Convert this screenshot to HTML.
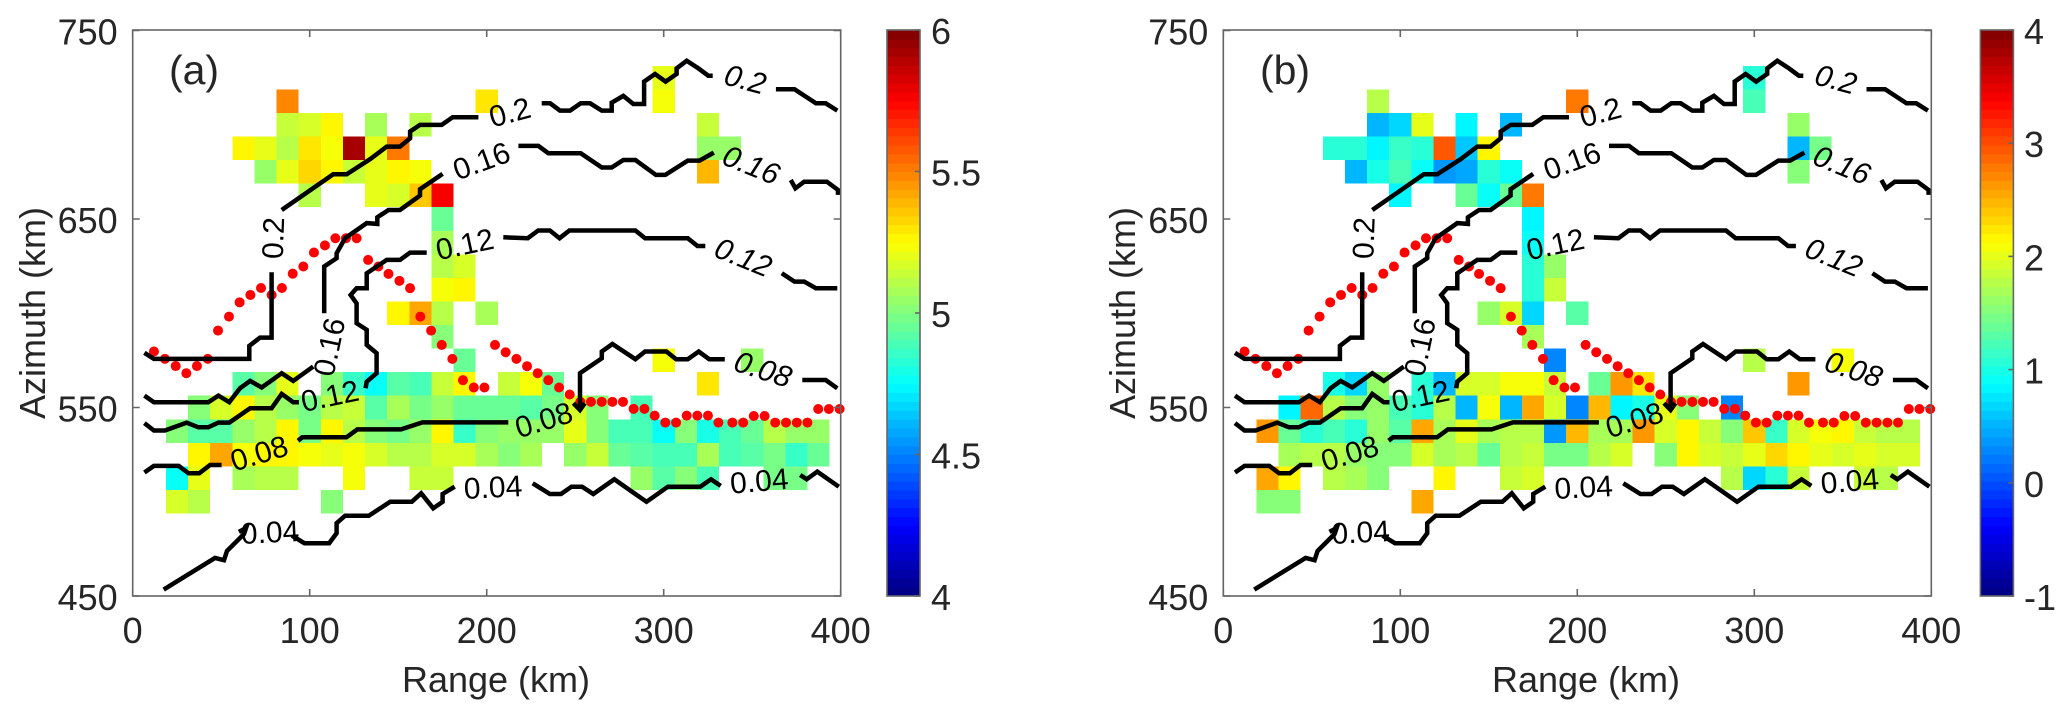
<!DOCTYPE html>
<html lang="en">
<head>
<meta charset="utf-8">
<title>Range-azimuth heatmaps (a) and (b)</title>
<style>
  html, body { margin: 0; padding: 0; background: #fff; }
  svg { display: block; }
  text { font-family: "Liberation Sans", Arial, sans-serif; fill: #262626; }
</style>
</head>
<body>
<svg id="chart" xmlns="http://www.w3.org/2000/svg" width="2067" height="716" viewBox="0 0 2067 716">
  <rect x="0" y="0" width="2067" height="716" fill="#fff"/>
  <g id="panel-a">
    <text x="194" y="84" font-size="41" text-anchor="middle">(a)</text>
    <text x="496" y="692" font-size="36" text-anchor="middle">Range (km)</text>
    <text transform="translate(45 313) rotate(-90)" font-size="36" text-anchor="middle">Azimuth (km)</text>
  </g>
  <g id="panel-b">
    <text x="1285" y="84" font-size="41" text-anchor="middle">(b)</text>
    <text x="1586" y="692" font-size="36" text-anchor="middle">Range (km)</text>
    <text transform="translate(1135 313) rotate(-90)" font-size="36" text-anchor="middle">Azimuth (km)</text>
  </g>
</svg>
<script>
const _ = null;
const rangeTicks = [0, 100, 200, 300, 400];
const azimuthTicks = [450, 550, 650, 750];
const colorTicksA = [4, 4.5, 5, 5.5, 6];
const colorTicksB = [-1, 0, 1, 2, 3, 4];
const colorLimitsA = [4, 6];
const colorLimitsB = [-1, 4];

const rangeBins = [25,37.5,50,62.5,75, 87.5,100,112.5,125,137.5, 150,162.5,175,187.5,200, 212.5,225,237.5,250,262.5, 275,287.5,300,312.5,325, 337.5,350,362.5,375,387.5];
const azimuthBins = [725,712.5,700,687.5,675,662.5,650,637.5,625,612.5,600,587.5,575,562.5,550,537.5,525,512.5,500];

const valuesA = [
[_,_,_,_,_, _,_,_,_,_, _,_,_,_,_, _,_,_,_,_, _,_,5.2,_,_, _,_,_,_,_],
[_,_,_,_,_, 5.47,_,_,_,_, _,_,_,_,5.29, _,_,_,_,_, _,_,5.22,_,_, _,_,_,_,_],
[_,_,_,_,_, 5.13,5.16,5.26,_,5.08, _,5.1,_,_,_, _,_,_,_,_, _,_,_,_,5.15, _,_,_,_,_],
[_,_,_,5.27,5.2, 5.12,5.3,5.22,5.92,5.2, 5.5,_,_,_,_, _,_,_,_,_, _,_,_,_,5.05, 5.05,_,_,_,_],
[_,_,_,_,5.06, 5.2,5.32,5.26,5.15,5.2, 5.27,5.22,_,_,_, _,_,_,_,_, _,_,_,_,5.38, _,_,_,_,_],
[_,_,_,_,_, _,5.12,_,_,5.2, 5.17,5.35,5.75,_,_, _,_,_,_,_, _,_,_,_,_, _,_,_,_,_],
[_,_,_,_,_, _,_,_,_,_, _,_,4.95,_,_, _,_,_,_,_, _,_,_,_,_, _,_,_,_,_],
[_,_,_,_,_, _,_,_,_,_, _,_,5.08,_,_, _,_,_,_,_, _,_,_,_,_, _,_,_,_,_],
[_,_,_,_,_, _,_,_,_,_, _,_,5.12,5.17,_, _,_,_,_,_, _,_,_,_,_, _,_,_,_,_],
[_,_,_,_,_, _,_,_,_,_, _,_,5.22,5.27,_, _,_,_,_,_, _,_,_,_,_, _,_,_,_,_],
[_,_,_,_,_, _,_,_,_,_, 5.27,5.42,5.1,_,5.08, _,_,_,_,_, _,_,_,_,_, _,_,_,_,_],
[_,_,_,_,_, _,_,_,_,_, _,_,5.02,_,_, _,_,_,_,_, _,_,_,_,_, _,_,_,_,_],
[_,_,_,_,_, _,_,_,_,_, _,_,_,4.95,_, _,_,_,_,_, _,_,5.22,_,_, _,5.05,_,_,_],
[_,_,_,4.92,5.0, 5.2,_,5.0,4.85,4.75, 4.92,4.88,5.15,5.27,_, 5.15,5.22,4.95,_,_, _,_,_,_,5.3, _,_,_,_,_],
[_,5.0,5.18,5.27,5.1, 5.05,4.98,5.1,5.15,4.93, 5.08,4.97,5.05,4.95,4.96, 4.96,4.92,4.98,5.18,5.02, _,4.9,_,_,_, _,_,_,_,_],
[5.0,4.92,4.93,5.05,5.1, 5.27,4.97,5.27,5.12,5.0, 4.97,5.05,5.27,4.87,5.02, 5.06,5.05,5.05,5.2,5.02, 4.9,4.9,4.75,5.0,4.8, 4.9,4.95,5.1,5.05,5.05],
[_,5.27,5.42,5.22,5.27, 5.27,5.22,5.2,5.22,5.18, 5.1,5.1,5.18,5.18,5.08, 5.03,5.08,_,5.06,5.13, 4.95,4.92,4.88,4.88,5.08, 4.88,4.93,4.98,4.85,4.95],
[4.75,5.2,_,5.08,5.12, 5.12,_,_,5.22,_, _,5.15,5.15,_,_, _,_,_,_,_, _,5.05,4.92,5.0,4.88, _,_,4.98,4.98,_],
[5.17,5.1,_,_,_, _,_,5.03,_,_, _,_,_,_,_, _,_,_,_,_, _,_,_,_,_, _,_,_,_,_]
];

const valuesB = [
[_,_,_,_,_, _,_,_,_,_, _,_,_,_,_, _,_,_,_,_, _,_,1.05,_,_, _,_,_,_,_],
[_,_,_,_,_, 1.75,_,_,_,_, _,_,_,_,2.75, _,_,_,_,_, _,_,1.25,_,_, _,_,_,_,_],
[_,_,_,_,_, 0.5,0.65,2.0,_,0.85, _,0.5,_,_,_, _,_,_,_,_, _,_,_,_,1.6, _,_,_,_,_],
[_,_,_,1.05,1.05, 0.8,1.15,1.1,2.95,0.6, 2.2,_,_,_,_, _,_,_,_,_, _,_,_,_,0.5, 1.45,_,_,_,_],
[_,_,_,_,0.5, 1.0,1.25,0.95,0.35,0.45, 1.05,0.9,_,_,_, _,_,_,_,_, _,_,_,_,1.5, _,_,_,_,_],
[_,_,_,_,_, _,0.85,_,_,1.35, 0.95,1.4,2.75,_,_, _,_,_,_,_, _,_,_,_,_, _,_,_,_,_],
[_,_,_,_,_, _,_,_,_,_, _,_,0.85,_,_, _,_,_,_,_, _,_,_,_,_, _,_,_,_,_],
[_,_,_,_,_, _,_,_,_,_, _,_,0.95,_,_, _,_,_,_,_, _,_,_,_,_, _,_,_,_,_],
[_,_,_,_,_, _,_,_,_,_, _,_,1.05,1.6,_, _,_,_,_,_, _,_,_,_,_, _,_,_,_,_],
[_,_,_,_,_, _,_,_,_,_, _,_,1.1,1.85,_, _,_,_,_,_, _,_,_,_,_, _,_,_,_,_],
[_,_,_,_,_, _,_,_,_,_, 1.65,1.9,0.65,_,1.3, _,_,_,_,_, _,_,_,_,_, _,_,_,_,_],
[_,_,_,_,_, _,_,_,_,_, _,_,1.7,_,_, _,_,_,_,_, _,_,_,_,_, _,_,_,_,_],
[_,_,_,_,_, _,_,_,_,_, _,_,_,0.3,_, _,_,_,_,_, _,_,1.8,_,_, _,2.1,_,_,_],
[_,_,_,1.0,0.7, 1.6,_,1.1,0.55,1.9, 1.95,2.1,2.1,1.85,_, 1.4,2.6,2.25,_,_, _,_,_,_,2.6, _,_,_,_,_],
[_,0.85,2.9,1.8,1.5, 1.65,1.25,1.1,1.75,0.5, 2.05,0.55,2.55,1.95,0.25, 2.5,0.8,1.0,2.0,1.5, _,0.3,_,_,_, _,_,_,_,_],
[2.65,1.4,1.05,1.25,1.1, 1.65,1.3,2.55,1.7,2.0, 1.7,1.8,1.75,0.4,2.45, 1.7,1.7,2.6,1.95,2.15, 1.85,1.55,2.4,1.15,1.95, 2.05,2.2,1.85,1.75,1.75],
[_,1.7,1.75,1.75,1.65, 1.5,1.55,1.9,1.7,1.75, 1.4,1.75,1.85,1.45,1.45, 1.8,1.95,_,1.55,2.15, 1.95,1.85,2.0,2.35,2.15, 2.0,1.95,2.0,1.9,1.95],
[2.55,2.2,_,1.75,1.7, 1.55,_,_,2.15,_, _,1.85,1.9,_,_, _,_,_,_,_, _,1.8,0.65,1.05,1.85, _,_,1.85,1.8,_],
[1.55,1.55,_,_,_, _,_,2.55,_,_, _,_,_,_,_, _,_,_,_,_, _,_,_,_,_, _,_,_,_,_]
];

const dotRange = [12,18.2,24.3,30.3,36.3,42.4,48.2,54.4,60.4,66.5,72.5,78.5,84.3,90.4,96.4,102.4,108.6,114.5,120.5,126.5,133,138.8,144.5,150.7,156.7,162.5,168.6,174.6,180.6,186.6,192.7,198.7,204.7,210.7,216.8,222.8,228.8,234.8,240.9,246.9,252.9,258.9,265,271,277,283,289.1,294.9,300.9,307,313,319,325,330.9,338.8,344.9,350.9,357,363,369.1,375.2,381.2,387.3,393.3,399.4];
const dotAzimuth = [579.7,575.8,572,568.2,572,575.8,590.8,598.2,605.8,609.7,613.4,609.7,613.4,621,624.8,632.2,636,639.8,639.8,639.8,628.3,624.8,620.9,617.2,613.3,598.2,590.8,583.2,575.8,564.5,560.6,560.6,583.2,579.3,575.8,571.9,568.2,564.5,560.6,556.9,553,553,553,553,553,549.3,549.3,545.7,542,542,545.7,545.7,545.7,542,542,542,545.5,545.5,542,542,542,542,549.2,549.2,549.2];

const contour20a = [[6.6,579],[12,575.8],[65.9,575.8],[65.9,582.7],[71.9,587.1],[78.5,587.1],[78.5,621.7]];
const contour20b = [[84.2,654.8],[113.3,673.7],[120.9,673.7],[134.1,681.7],[143.5,688.4],[151,688.4],[156.7,692.8],[156.7,696.4],[162.3,699.9],[174.6,699.9],[180.8,704],[195.3,704]];
const contour20c = [[231.1,711.4],[235.8,711.4],[241.4,707.5],[247.1,707.5],[253.1,711.4],[258.4,711.4],[265,707.5],[270.6,707.5],[270.6,711.7],[277.2,715.3],[282.8,711],[288.9,711],[288.9,722.9],[295.1,726.9],[301.1,722.9],[307.3,726.9],[307.3,729.9],[313,734],[319.6,729.9],[325.2,726],[327.7,726]];
const contour20d = [[363.4,718.8],[373.9,718.8],[386,711.4],[391.5,711.4],[398.1,707.5]];
const contour16a = [[6.6,556.3],[12,552.8],[42.7,552.8],[48.4,556.3],[54.6,552.8],[60.6,560.2],[66.3,564.1],[72.9,560.6],[84.2,568.2],[90.7,564.1],[102,571.7]];
const contour16b = [[108.2,600],[108.2,624.8],[115.2,629.2],[115.2,631.8],[120,639.8],[132.2,647.8],[138.2,647.4],[138.2,650.9],[144.5,654.8],[151,654.8],[162.3,662.4],[162.3,665.8],[175.1,673.9]];
const contour16c = [[217.9,688.8],[229.2,688.8],[234.8,684.9],[253.1,684.9],[265,677.3],[270.6,677.3],[277.2,681.3],[284,681.3],[295.6,673.4],[300.9,673.4],[313.6,681],[320.2,681],[328.3,685.2]];
const contour16d = [[371.8,670.7],[374.4,666.3],[379.4,669.8],[392.2,669.8],[398.5,665.4],[398.5,662.8]];
const contour12a = [[6.6,541.7],[12,537.8],[18.2,537.8],[30.5,542],[37.1,539.5],[42.7,539.5],[48.4,542],[54.6,542],[66.3,549.6],[78.5,549.6],[84.2,557.2],[90.7,552.8],[93.9,552.8]];
const contour12b = [[131.6,560.2],[132.2,563.7],[137.8,568.2],[137.8,578.8],[132.2,583.2],[132.2,591.2],[126.5,594.7],[126.5,605.3],[123.1,609.7],[126.5,613.3],[132.2,613.3],[132.2,621.2],[143.5,628.3],[151,628.3],[156.7,632.2],[166.1,632.2]];
const contour12c = [[209.4,640.3],[223.2,639.8],[229.1,643.9],[235.7,643.9],[241.2,639.8],[246.7,643.9],[284,643.9],[289.5,639.8],[313.6,639.8],[319.1,635.7],[323.5,635.7]];
const contour12d = [[366.7,621.2],[373.9,616.8],[379.4,616.8],[386,613.3],[398.1,613.3]];
const contour08a = [[6.6,515.5],[12,519],[26,519],[31.5,515.1],[37.6,515.1],[43.7,519.5],[50.2,519.5]];
const contour08b = [[93.4,532.4],[95.8,534.2],[120.8,534.2],[126.9,538.4],[151.6,538.4],[163.7,542.1],[212.2,542.1]];
const contour08c = [[249,552.3],[252.7,548.7],[255.4,552.3],[252.7,548.7],[252.7,568.2],[265,576.1],[265,579.7],[271,583.7],[284,575.6],[289.5,579.7],[301.5,579.7],[307,575.6],[313.6,575.6],[319.8,579.7],[325.7,575.6],[334.5,575.6]];
const contour08d = [[378.3,564.6],[391.5,564.6],[398.1,560.2]];
const contour04a = [[17.5,453.4],[46.5,470.2],[51.6,469],[53.3,473.9],[62.9,482.9],[64,486],[60,484]];
const contour04b = [[90,482],[97,478],[111,478],[115.2,483.3],[115.2,488.6],[120,492.6],[133.4,492.6],[145.5,500],[157.7,500],[163,504.5],[169.8,496.5],[175.1,500],[175.1,504.1],[181.9,508]];
const contour04c = [[226,509.8],[235.7,504.1],[242,504.1],[247.9,508],[253.9,508],[260.2,504.1],[272.1,511.9],[290.3,500],[302.4,508],[320.6,508],[326.7,511.9],[332.2,508.4]];
const contour04d = [[377.1,514.2],[380.8,511.9],[386.8,516],[398.9,508]];
const contourSegments = [contour20a,contour20b,contour20c,contour20d,contour16a,contour16b,contour16c,contour16d,contour12a,contour12b,contour12c,contour12d,contour08a,contour08b,contour08c,contour08d,contour04a,contour04b,contour04c,contour04d];

const contourLabelText = ['0.2','0.2','0.2','0.16','0.16','0.16','0.12','0.12','0.12','0.08','0.08','0.08','0.04','0.04','0.04'];
const contourLabelRange = [79.8,213.2,346,111.5,197.2,349.3,111.5,187.7,344.8,71.6,232.4,356,77.6,203.6,354];
const contourLabelAzimuth = [639.9,706.2,723.7,582,680.4,678.3,555.7,636.2,629.3,525.3,543,569.9,483.4,507.3,510.6];
const contourLabelAngle = [-88,-15,15,-78,-20,22,-12,-12,22,-17,-17,18,-3,-3,-5];

const SVG_NS = 'http://www.w3.org/2000/svg';
const PLOT_TOP = 30, PLOT_BOTTOM = 596, KM_PX = 1.77, AZ_PX = 1.885;

function make(tag, attrs, parent) {
  const el = document.createElementNS(SVG_NS, tag);
  for (const k in attrs) el.setAttribute(k, attrs[k]);
  parent.appendChild(el);
  return el;
}

function jetColor(f) {
  const idx = Math.max(0, Math.min(63, Math.floor(f * 64)));
  const c = (idx + 0.5) / 64;
  const ch = v => Math.round(255 * Math.max(0, Math.min(1, 1.5 - Math.abs(4 * c - v))));
  return 'rgb(' + ch(3) + ',' + ch(2) + ',' + ch(1) + ')';
}

function drawPanel(root, prefix, left, values, limits, colorTicks, barLeft, barLabelX) {
  const xScale = km => left + km * KM_PX;
  const yScale = az => PLOT_BOTTOM - (az - 450) * AZ_PX;
  const colorFrac = v => (v - limits[0]) / (limits[1] - limits[0]);
  const right = xScale(400);

  const heat = make('g', {'shape-rendering': 'crispEdges'}, root);
  
  
  values.forEach((row, r) => {
    row.forEach((v, c) => {
      if (v === null) return;
      const x0 = xScale(rangeBins[c] - 6.25), x1 = xScale(rangeBins[c] + 6.25);
      const y0 = yScale(azimuthBins[r] + 6.25), y1 = yScale(azimuthBins[r] - 6.25);
      const cell = make('rect', {x: x0, y: y0, width: x1 - x0, height: y1 - y0, fill: jetColor(colorFrac(v))}, heat);
      
      
    });
  });

  const dots = make('g', {fill: '#ff0000'}, root);
  
  
  dotRange.forEach((km, i) => {
    const dot = make('circle', {cx: xScale(km), cy: yScale(dotAzimuth[i]), r: 5}, dots);
    
    
  });

  const lines = make('g', {fill: 'none', stroke: '#000', 'stroke-width': 4.5, 'stroke-linejoin': 'miter', 'stroke-miterlimit': 3}, root);
  
  
  contourSegments.forEach(seg => {
    const pts = seg.map(p => xScale(p[0]).toFixed(1) + ',' + yScale(p[1]).toFixed(1)).join(' ');
    const line = make('polyline', {points: pts}, lines);
    
    
  });

  contourLabelText.forEach((t, i) => {
    const px = xScale(contourLabelRange[i]), py = yScale(contourLabelAzimuth[i]);
    const attrs = {transform: 'translate(' + px + ' ' + py + ') rotate(' + contourLabelAngle[i] + ')', 'text-anchor': 'middle', 'dominant-baseline': 'central', 'font-size': 30, style: 'fill:#000'};
    if (contourLabelAngle[i] > 0) attrs['font-style'] = 'italic';
    const label = make('text', attrs, root);
    
    
    label.textContent = t;
  });

  const axes = make('g', {fill: 'none', stroke: '#666', 'stroke-width': 1.6}, root);
  
  
  const box = make('rect', {x: left, y: PLOT_TOP, width: right - left, height: PLOT_BOTTOM - PLOT_TOP}, axes);
  
  

  rangeTicks.forEach(v => {
    const px = xScale(v);
    make('path', {d: 'M' + px + ' ' + PLOT_BOTTOM + 'v-7M' + px + ' ' + PLOT_TOP + 'v7'}, axes);
    const label = make('text', {x: px, y: 643, 'text-anchor': 'middle', 'font-size': 36}, root);
    
    
    label.textContent = String(v);
  });
  azimuthTicks.forEach(v => {
    const py = yScale(v);
    make('path', {d: 'M' + left + ' ' + py + 'h7M' + right + ' ' + py + 'h-7'}, axes);
    const label = make('text', {x: left - 15, y: py + 14, 'text-anchor': 'end', 'font-size': 36}, root);
    
    
    label.textContent = String(v);
  });

  const barWidth = 33;
  const bar = make('g', {'shape-rendering': 'crispEdges'}, root);
  
  
  const barH = (PLOT_BOTTOM - PLOT_TOP) / 64;
  for (let i = 0; i < 64; i++) {
    make('rect', {x: barLeft, y: PLOT_BOTTOM - (i + 1) * barH, width: barWidth, height: barH + 0.6, fill: jetColor((i + 0.5) / 64)}, bar);
  }
  make('rect', {x: barLeft, y: PLOT_TOP, width: barWidth, height: PLOT_BOTTOM - PLOT_TOP, fill: 'none', stroke: '#666', 'stroke-width': 1.6}, root);
  const barScale = v => PLOT_BOTTOM - colorFrac(v) * (PLOT_BOTTOM - PLOT_TOP);
  colorTicks.forEach(v => {
    const py = barScale(v);
    make('path', {d: 'M' + (barLeft + barWidth) + ' ' + py + 'h-5', stroke: '#666', 'stroke-width': 1.6, fill: 'none'}, root);
    const label = make('text', {x: barLabelX, y: py + 14, 'font-size': 36}, root);
    
    
    label.textContent = String(v);
  });
}

drawPanel(document.getElementById('panel-a'), 'panel-a', 132.7, valuesA, colorLimitsA, colorTicksA, 887, 931);
drawPanel(document.getElementById('panel-b'), 'panel-b', 1223.3, valuesB, colorLimitsB, colorTicksB, 1980.4, 2024);
</script>
</body>
</html>
